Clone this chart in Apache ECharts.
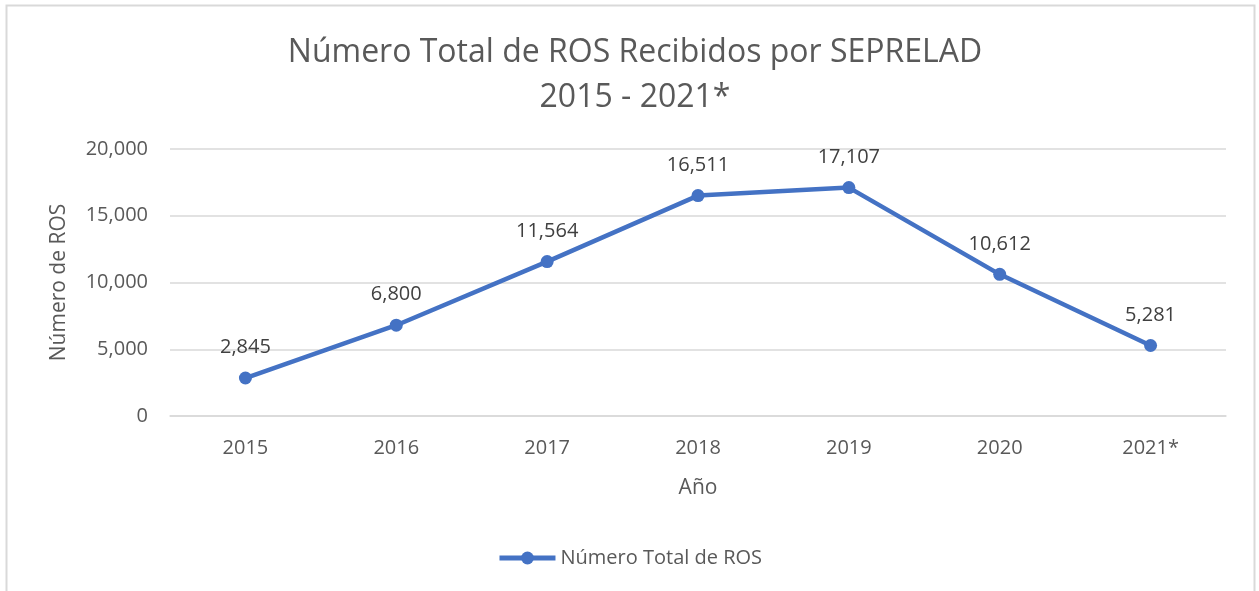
<!DOCTYPE html>
<html>
<head>
<meta charset="utf-8">
<script src="https://cdn.jsdelivr.net/npm/echarts@6/dist/echarts.min.js"></script>
<style>
  html, body { margin: 0; padding: 0; background: #fff; }
  #chart { width: 1259px; height: 591px; }
</style>
</head>
<body>
<div id="chart"></div>
<script>
const years = ['2015', '2016', '2017', '2018', '2019', '2020', '2021*'];
const rosTotals = [2845, 6800, 11564, 16511, 17107, 10612, 5281];
const seriesName = 'Número Total de ROS';

const font = '"Open Sans", "Noto Sans", sans-serif';

const chart = echarts.init(document.getElementById('chart'));
chart.setOption({
  textStyle: { fontFamily: font },
  graphic: [
    {
      type: 'rect',
      shape: { x: 6.5, y: 5.5, width: 1248, height: 620 },
      style: { fill: 'none', stroke: '#d9d9d9', lineWidth: 2 },
      silent: true
    }
  ],
  title: {
    text: 'Número Total de ROS Recibidos por SEPRELAD\n2015 - 2021*',
    left: 630,
    textAlign: 'center',
    top: 25,
    textStyle: {
      fontFamily: font,
      fontSize: 32,
      fontWeight: 'normal',
      color: '#595959',
      lineHeight: 45
    }
  },
  legend: {
    bottom: 18,
    left: 'center',
    itemWidth: 56,
    itemHeight: 16,
    itemGap: 4,
    lineStyle: { width: 5, color: '#4472C4' },
    textStyle: { fontFamily: font, fontSize: 20, color: '#595959' },
    data: [seriesName]
  },
  grid: { left: 170, right: 33, top: 149, bottom: 175, containLabel: false },
  xAxis: {
    type: 'category',
    data: years,
    boundaryGap: true,
    name: 'Año',
    nameLocation: 'middle',
    nameGap: 62,
    nameTextStyle: { fontFamily: font, fontSize: 21, color: '#595959' },
    axisLine: { show: true, lineStyle: { color: '#d9d9d9', width: 1.5 } },
    axisTick: { show: false },
    axisLabel: { fontFamily: font, fontSize: 20, color: '#595959', margin: 22 }
  },
  yAxis: {
    type: 'value',
    min: 0,
    max: 20000,
    interval: 5000,
    name: 'Número de ROS',
    nameLocation: 'middle',
    nameGap: 100,
    nameTextStyle: { fontFamily: font, fontSize: 21, color: '#595959' },
    axisLine: { show: false },
    axisTick: { show: false },
    splitLine: { lineStyle: { color: '#d9d9d9', width: 1.5 } },
    axisLabel: {
      fontFamily: font,
      fontSize: 20,
      color: '#595959',
      margin: 22,
      formatter: v => v.toLocaleString('en-US')
    }
  },
  series: [
    {
      name: seriesName,
      type: 'line',
      data: rosTotals,
      symbol: 'circle',
      symbolSize: 13,
      lineStyle: { color: '#4472C4', width: 4.5 },
      itemStyle: { color: '#4472C4' },
      label: {
        show: true,
        position: 'top',
        distance: 14,
        fontFamily: font,
        fontSize: 20,
        color: '#404040',
        formatter: p => p.value.toLocaleString('en-US')
      }
    }
  ]
});
</script>
</body>
</html>
